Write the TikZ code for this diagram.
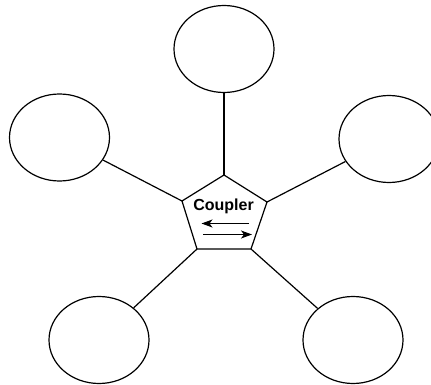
\documentclass[tikz,border=0pt]{standalone}
\usepackage{fontspec}
\setsansfont{Liberation Sans}
\usetikzlibrary{shapes.geometric,arrows.meta}
\begin{document}
\begin{tikzpicture}[x=1pt,y=-1pt,line width=1.2pt,
  port/.style={draw,ellipse,minimum width=100pt,minimum height=87pt,inner sep=0pt},
  link/.style={line width=1.2pt},
  flow/.style={line width=1.2pt,-{Stealth[length=11pt,width=8pt,inset=3pt]}}]
  \useasboundingbox (0,0) rectangle (431,385);
  \clip (0,0) rectangle (431,385);
  % outer ports
  \node[port] (top) at (224,49) {};
  \node[port] (left) at (59.5,137.5) {};
  \node[port] (right) at (389,139) {};
  \node[port] (botleft) at (99,340) {};
  \node[port] (botright) at (353,340) {};
  % coupler body corners
  \coordinate (ptop) at (224,175);
  \coordinate (pleft) at (182,201);
  \coordinate (pright) at (267,202);
  \coordinate (pbl) at (197,249);
  \coordinate (pbr) at (251,249);
  \draw[fill=white] (ptop) -- (pright) -- (pbr) -- (pbl) -- (pleft) -- cycle;
  \node[font=\sffamily\bfseries\fontsize{16}{18}\selectfont,inner sep=0pt] (coupler) at (223.5,206) {Coupler};
  % direction arrows
  \coordinate (a1s) at (249,223.5);
  \coordinate (a1e) at (201.5,223.5);
  \coordinate (a2s) at (203,234.5);
  \coordinate (a2e) at (252,234.5);
  \draw[flow] (a1s) -- (a1e);
  \draw[flow] (a2s) -- (a2e);
  % connections
  \draw[link] (ptop) -- (top);
  \draw[link] (pleft) -- (left);
  \draw[link] (pright) -- (right);
  \draw[link] (pbl) -- (botleft);
  \draw[link] (pbr) -- (botright);
\end{tikzpicture}
\end{document}
